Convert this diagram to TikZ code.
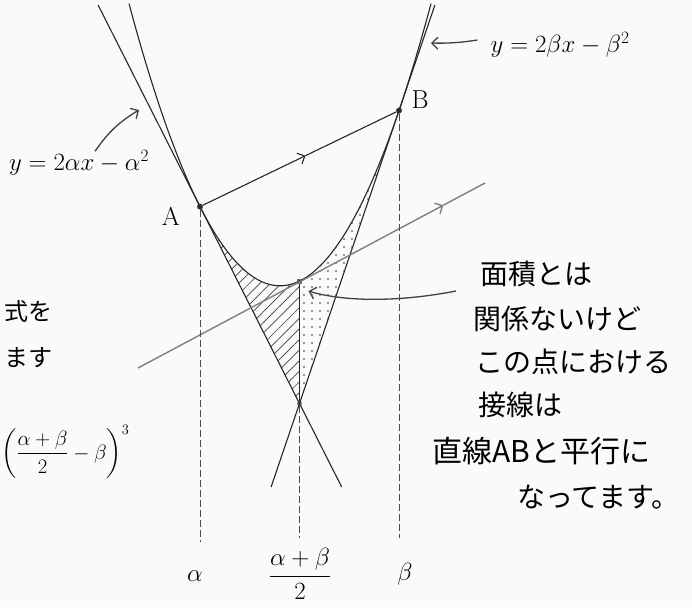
\documentclass[tikz,border=0pt]{standalone}
\usepackage{amsmath}
\usepackage{fontspec}
\newfontfamily\jpfont{Noto Sans CJK JP}
\usetikzlibrary{arrows.meta,positioning,calc,patterns.meta}
\definecolor{paper}{RGB}{250,250,248}

\begin{document}
\begin{tikzpicture}[x=1pt,y=-1pt,
  declare function={py(\t)=285.8-0.01237*(\t-280)*(\t-280);}]
  % Styles for curves, guides and labels
  \tikzset{curveline/.style={line width=1.1pt, black!85}}
  \tikzset{guideline/.style={line width=0.9pt, black!70, dash pattern=on 7pt off 3pt}}
  \tikzset{midline/.style={line width=1.4pt, black!50}}
  \tikzset{handarrow/.style={line width=1.3pt, black!75, -{Straight Barb[length=6pt,width=12pt]}}}
  \tikzset{midtip/.style={-{Straight Barb[length=6pt,width=12pt]}}}
  \tikzset{jptext/.style={font=\jpfont\fontsize{28}{34}\selectfont, anchor=base west, inner sep=0pt}}
  \tikzset{ptdot/.style={circle, fill=black!80, inner sep=0pt, minimum size=6pt}}
  \tikzset{lbl/.style={font=\fontsize{24}{28}\selectfont, inner sep=1pt}}

  \useasboundingbox (0,0) rectangle (692,607);
  \fill[paper] (0,0) rectangle (692,607);
  \clip (0,0) rectangle (692,607);

  % points
  \node[ptdot] (A) at (200,{py(200)}) {};
  \node[ptdot] (B) at (399,{py(399)}) {};
  \node[ptdot, fill=black!55, rectangle, minimum size=5pt] (M) at (299.5,{py(299.5)}) {};
  \node[ptdot, fill=black!55, minimum size=5pt] (P) at (299.5,403.5) {};

  % shaded pieces
  \path[pattern={Lines[angle=45,distance=7.5pt,line width=0.7pt]}, pattern color=black!75]
    (A.center) -- plot[domain=200:299.5, samples=40] (\x,{py(\x)}) -- (P.center) -- cycle;
  \path[pattern={Dots[distance=8pt,radius=0.8pt]}, pattern color=black!80]
    plot[domain=299.5:399, samples=40] (\x,{py(\x)}) -- (P.center) -- (M.center) -- cycle;

  % parabola
  \draw[curveline] plot[domain=129:431, samples=100, smooth] (\x,{py(\x)});

  % tangents at A and B
  \coordinate (tAtop) at (98.1,5);
  \coordinate (tAbot) at (341.7,487);
  \coordinate (tBtop) at (434.9,5);
  \coordinate (tBbot) at (271.1,487);
  \draw[curveline] (tAtop) -- (tAbot);
  \draw[curveline] (tBtop) -- (tBbot);

  % chord AB
  \coordinate (mAB) at ($(A)!0.53!(B)$);
  \draw[curveline, midtip] (A) -- (mAB);
  \draw[curveline] (mAB) -- (B);

  % tangent at M
  \coordinate (tMleft) at (138,368);
  \coordinate (tMright) at (485,183);
  \coordinate (tMtip) at ($(tMleft)!0.88!(tMright)$);
  \draw[midline, midtip] (tMleft) -- (tMtip);
  \draw[midline] (tMtip) -- (tMright);

  % verticals
  \coordinate (aFoot) at (200,542);
  \coordinate (mFoot) at (299.5,538);
  \coordinate (bFoot) at (399,538);
  \draw[curveline] (M) -- (P);
  \draw[guideline] (A) -- (aFoot);
  \draw[guideline] (P) -- (mFoot);
  \draw[guideline] (B) -- (bFoot);

  % labels
  \node[lbl, font=\fontsize{26}{30}\selectfont] (labA) at (171,216) {A};
  \node[lbl, font=\fontsize{26}{30}\selectfont] (labB) at (420,100) {B};
  \node[lbl] (eqA) at (79,163) {$y=2\alpha x-\alpha^2$};
  \node[lbl] (eqB) at (560,45) {$y=2\beta x-\beta^2$};
  \coordinate (eqAtip) at (139,110);
  \coordinate (eqBtip) at (431,43);
  \draw[handarrow] ([xshift=16pt,yshift=-2pt]eqA.north) to[bend left=12] (eqAtip);
  \draw[handarrow] ([xshift=-12pt,yshift=5pt]eqB.west) to[bend left=5] (eqBtip);

  \node[lbl, font=\fontsize{28}{32}\selectfont] (la) at (195,576) {$\alpha$};
  \node[lbl, font=\fontsize{27}{32}\selectfont] (lm) at (300,574) {$\dfrac{\alpha+\beta}{2}$};
  \node[lbl, font=\fontsize{28}{32}\selectfont] (lb) at (405,574) {$\beta$};

  % note
  \node[jptext] (t1) at (480,284) {面積とは};
  \node[jptext] (t2) at (473,329) {関係ないけど};
  \node[jptext] (t3) at (475,372) {この点における};
  \node[jptext] (t4) at (478,415) {接線は};
  \node[jptext, font=\jpfont\fontsize{30}{34}\selectfont] (t5) at (432,462) {直線ABと平行に};
  \node[jptext] (t6) at (517,507) {なってます。};
  \draw[handarrow] ($(t1.base west)+(-24,7)$) .. controls (400,302) and (345,302) .. ($(M)+(9,10)$);

  % text at left edge
  \node[font=\jpfont\fontsize{24}{28}\selectfont, anchor=west] (fragA) at (1,311) {式を};
  \node[font=\jpfont\fontsize{24}{28}\selectfont, anchor=west] (fragB) at (1,358) {ます};
  \node[font=\fontsize{20}{24}\selectfont, anchor=west, inner sep=0pt] (fragC) at (1,452)
    {$\left(\dfrac{\alpha+\beta}{2}-\beta\right)^{3}$};
\end{tikzpicture}
\end{document}
